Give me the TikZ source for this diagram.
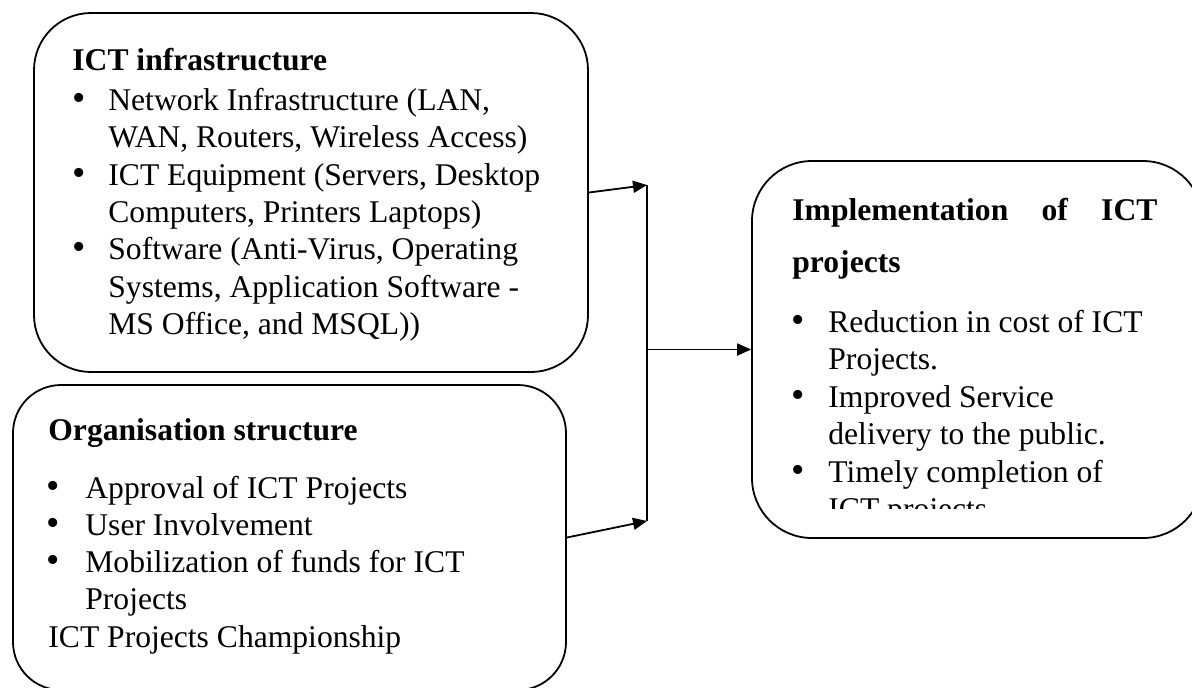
\documentclass[tikz,border=0pt]{standalone}
\usepackage{fontspec}
\setmainfont{Liberation Serif}
\usetikzlibrary{arrows.meta}
\begin{document}
\begin{tikzpicture}[x=0.5pt,y=-0.5pt,
  box/.style={draw, line width=0.9pt, inner sep=0pt},
  txt/.style={anchor=base west, inner sep=0pt, font=\fontsize{15.8}{16}\selectfont},
  hd/.style={anchor=base west, inner sep=0pt, font=\fontsize{15.8}{16}\selectfont\bfseries},
  dot/.style={anchor=base, inner sep=0pt, font=\fontsize{19}{19}\selectfont},
  arr/.style={line width=0.9pt, -{Triangle[length=7pt,width=6pt]}},
  conn/.style={line width=0.9pt}]
\useasboundingbox (0,0) rectangle (1192,687);

% boxes
\node[box, rounded corners=28.5pt, minimum width=277pt, minimum height=179.5pt] (infra) at (311,192.5) {};
\node[box, rounded corners=24pt, minimum width=276.5pt, minimum height=152.5pt] (org) at (289.5,537.5) {};
\node[box, rounded corners=30pt, minimum width=225.5pt, minimum height=188.5pt] (impl) at (977.5,349.5) {};

% ICT infrastructure
\node[hd] (h1) at (72,70) {ICT infrastructure};
\node[dot] (b11) at (79,110) {•};
\node[txt] (t11) at (108,110) {Network Infrastructure (LAN,};
\node[txt] (t12) at (108,147) {WAN, Routers, Wireless Access)};
\node[dot] (b12) at (79,185) {•};
\node[txt] (t13) at (108,185) {ICT Equipment (Servers, Desktop};
\node[txt] (t14) at (108,222) {Computers, Printers Laptops)};
\node[dot] (b13) at (79,259) {•};
\node[txt] (t15) at (108,259) {Software (Anti-Virus, Operating};
\node[txt] (t16) at (108,297) {Systems, Application Software -};
\node[txt] (t17) at (108,334) {MS Office, and MSQL))};

% Organisation structure
\node[hd] (h2) at (48,440) {Organisation structure};
\node[dot] (b21) at (53,498) {•};
\node[txt] (t21) at (85,498) {Approval of ICT Projects};
\node[dot] (b22) at (53,535) {•};
\node[txt] (t22) at (85,535) {User Involvement};
\node[dot] (b23) at (53,572) {•};
\node[txt] (t23) at (85,572) {Mobilization of funds for ICT};
\node[txt] (t24) at (85,609) {Projects};
\node[txt] (t25) at (48,647) {ICT Projects Championship};

% Implementation of ICT projects
\node[hd] (h3) at (792,220) {\makebox[182.5pt][s]{Implementation\hfill of\hfill ICT}};
\node[hd] (h3b) at (792,272) {projects};
\node[dot] (b31) at (798,332) {•};
\node[txt] (t31) at (828,332) {Reduction in cost of ICT};
\node[txt] (t32) at (828,369) {Projects.};
\node[dot] (b32) at (798,407) {•};
\node[txt] (t33) at (828,407) {Improved Service};
\node[txt] (t34) at (828,444) {delivery to the public.};
\node[dot] (b33) at (798,482) {•};
\node[txt] (t35) at (828,482) {Timely completion of};
\begin{scope}
  \clip (752,161) rectangle (1203,508);
  \node[txt] (t36) at (828,519) {ICT projects};
\end{scope}

% connectors
\coordinate (jt) at (647,185);
\coordinate (jb) at (647,521);
\coordinate (jm) at (jt |- impl.west);
\draw[arr] (infra.east) -- (jt);
\draw[arr] (org.east) -- (jb);
\draw[conn] (jt) -- (jb);
\draw[arr] (jm) -- (impl.west);
\end{tikzpicture}
\end{document}
